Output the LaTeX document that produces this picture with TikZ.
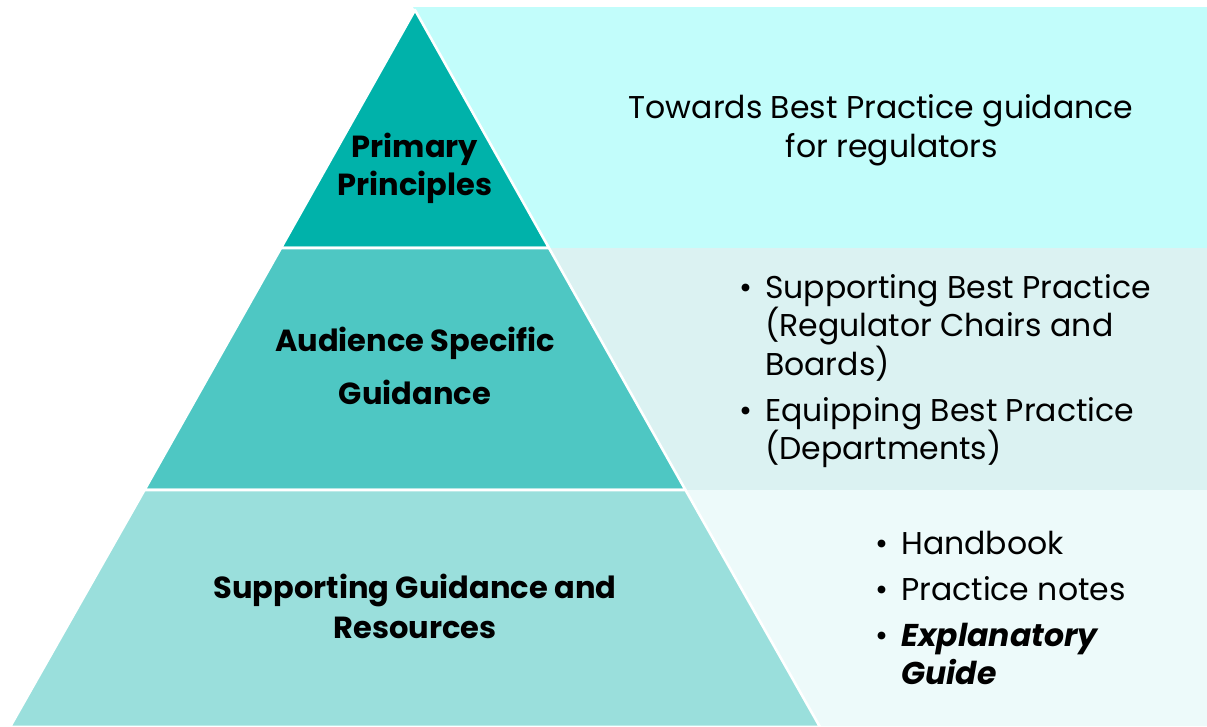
\documentclass[tikz,border=0pt]{standalone}
\usepackage{fontspec}
\setmainfont{Poppins}
\definecolor{triA}{HTML}{00B2AA}
\definecolor{triB}{HTML}{4EC7C3}
\definecolor{triC}{HTML}{9ADFDC}
\definecolor{panA}{HTML}{C2FDFB}
\definecolor{panB}{HTML}{DBF2F2}
\definecolor{panC}{HTML}{EDFAFA}
\tikzset{
  band/.style={draw=white, line width=2.6pt, line join=round},
  lbl/.style={anchor=base, font=\fontsize{30.5}{34}\selectfont\bfseries, inner sep=0pt},
  txt/.style={anchor=base west, font=\fontsize{31.5}{36}\selectfont, inner sep=0pt},
  ctxt/.style={anchor=base, font=\fontsize{31.5}{36}\selectfont, inner sep=0pt},
  bul/.style={anchor=base west, font=\fontsize{31.5}{36}\selectfont, inner sep=0pt},
  emtxt/.style={txt, font=\fontsize{31.5}{36}\selectfont\bfseries\itshape},
}
\begin{document}
\begin{tikzpicture}[x=1pt,y=-1pt]
\useasboundingbox (0,0) rectangle (1207,726);
% panels
\fill[panA] (413,7) -- (1207,7) -- (1207,248) -- (549,248) -- cycle;
\fill[panB] (549,248) -- (1207,248) -- (1207,490) -- (685.5,490) -- cycle;
\fill[panC] (685.5,490) -- (1207,490) -- (1207,726) -- (818.5,726) -- cycle;
% pyramid bands
\fill[triA, band] (415,10) -- (549,248) -- (281,248) -- cycle;
\fill[triB, band] (281,248) -- (549,248) -- (685.5,490) -- (144.5,490) -- cycle;
\fill[triC, band] (144.5,490) -- (685.5,490) -- (820,727) -- (10,727) -- cycle;
% pyramid labels
\node[lbl] (p1) at (415,157) {Primary};
\node[lbl] (p2) at (415,195) {Principles};
\node[lbl] (a1) at (415,351) {Audience Specific};
\node[lbl] (a2) at (415,404) {Guidance};
\node[lbl] (s1) at (415,598) {Supporting Guidance and};
\node[lbl] (s2) at (415,638) {Resources};
% top panel text
\node[ctxt] (t1) at (881,118) {Towards Best Practice guidance};
\node[ctxt] (t2) at (892,157) {for regulators};
% middle panel list
\node[bul] (mb1) at (739,298) {•};
\node[txt] (m1) at (765,298) {Supporting Best Practice};
\node[txt] (m2) at (765,336) {(Regulator Chairs and};
\node[txt] (m3) at (765,375) {Boards)};
\node[bul] (mb2) at (739,421) {•};
\node[txt] (m4) at (765,421) {Equipping Best Practice};
\node[txt] (m5) at (765,459) {(Departments)};
% bottom panel list
\node[bul] (bb1) at (875,554) {•};
\node[txt] (b1) at (901,554) {Handbook};
\node[bul] (bb2) at (875,600) {•};
\node[txt] (b2) at (901,600) {Practice notes};
\node[bul] (bb3) at (875,646) {•};
\node[emtxt] (b3) at (901,646) {Explanatory};
\node[emtxt] (b4) at (901,684) {Guide};
\end{tikzpicture}
\end{document}
